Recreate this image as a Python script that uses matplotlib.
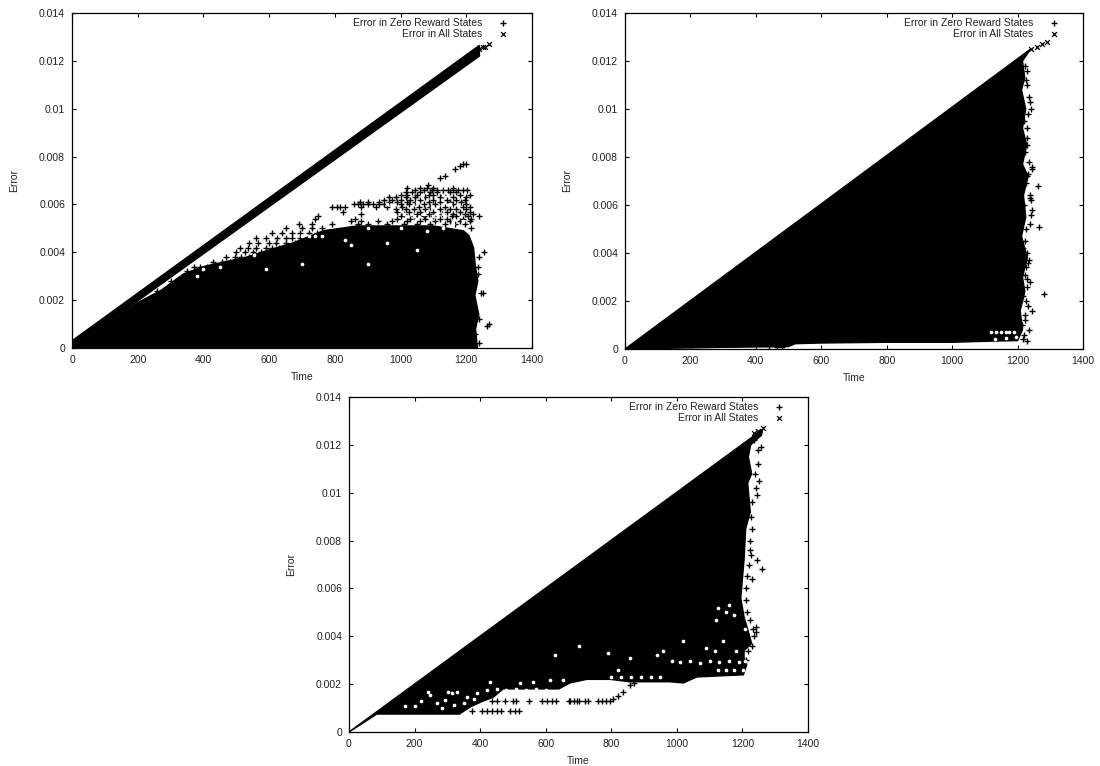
import matplotlib
matplotlib.use("Agg")
import matplotlib.pyplot as plt

plt.rcParams["font.family"] = ["Liberation Sans", "DejaVu Sans"]

xticks = [0, 200, 400, 600, 800, 1000, 1200, 1400]
yticks = [0, 0.002, 0.004, 0.006, 0.008, 0.01, 0.012, 0.014]
ytick_labels = ["0", "0.002", "0.004", "0.006", "0.008", "0.01", "0.012", "0.014"]
zero_label = "Error in Zero Reward States"
all_label = "Error in All States"

# top left panel: diagonal band, solid mass under it, loose points above
p1_band_x = [0, 1240, 1240, 0]
p1_band_y = [0.0003, 0.01265, 0.0122, 0]
p1_mass_x = [0, 100, 200, 270, 340, 400, 430, 532, 600, 674, 765, 867, 978, 1100, 1191,
             1208, 1222, 1228, 1235, 1226, 1238, 1228, 1234, 0]
p1_mass_y = [0, 0.00095, 0.0019, 0.0024, 0.0031, 0.0034, 0.0035, 0.0038, 0.0041, 0.0044,
             0.0049, 0.0051, 0.0051, 0.0051, 0.0049, 0.0047, 0.0042, 0.0034, 0.0028,
             0.0022, 0.0014, 0.0008, 0, 0]
# loose points, one row of x values per y value
p1_row_y = [0.0024, 0.0028, 0.0032, 0.0034, 0.0036, 0.0038, 0.0040, 0.0042, 0.0044, 0.0046,
            0.0048, 0.0050, 0.0052, 0.0053, 0.0054, 0.0055, 0.0056, 0.0057, 0.0058, 0.0059,
            0.0060, 0.0061, 0.0062, 0.0063, 0.0064, 0.0065, 0.0066, 0.0067, 0.0068]
p1_row_x = [[260, 285], [300, 315, 330], [350, 375], [370, 390, 410, 440, 1235], [430, 455, 480, 500],
            [470, 495, 515, 540, 570, 1240], [500, 525, 550, 575, 1255], [510, 535, 560, 590, 610, 630],
            [540, 565, 600, 620, 650, 680], [560, 590, 625, 650, 670, 695, 720],
            [610, 640, 670, 695, 720, 745], [650, 700, 730, 760, 1215], [690, 730, 790, 870, 900, 960, 1010, 1050, 1090, 1135, 1165, 1195],
            [850, 880, 930, 975, 1020, 1060, 1105, 1150, 1180, 1210],
            [740, 860, 990, 1030, 1075, 1120, 1140, 1190, 1215], [750, 1000, 1040, 1070, 1100, 1155, 1170, 1205, 1240],
            [880, 1010, 1050, 1085, 1125, 1160, 1195, 1220], [826, 990, 1025, 1060, 1100, 1140, 1180, 1210],
            [985, 1015, 1040, 1075, 1120, 1150, 1170, 1200], [790, 805, 815, 831, 880, 925, 960, 1005, 1055, 1090, 1135, 1190, 1210],
            [857, 870, 885, 900, 917, 935, 950, 1000, 1025, 1070, 1105, 1160, 1200], [875, 900, 935, 965, 990, 1020, 1045, 1085, 1120, 1150, 1185],
            [950, 975, 1000, 1030, 1060, 1100, 1140, 1170, 1195], [965, 985, 1015, 1045, 1075, 1120, 1160, 1200],
            [1000, 1020, 1050, 1085, 1100, 1130, 1180, 1210], [1015, 1035, 1060, 1090, 1110, 1150, 1170],
            [1045, 1070, 1095, 1110, 1130, 1145, 1160, 1175, 1190, 1201], [1020, 1060, 1080, 1100, 1160], [1082]]
p1_lone_x = [1120, 1135, 1165, 1180, 1190, 1200, 1235, 1245, 1250, 1262, 1270, 1240, 1225, 1240,
             5, 15, 30]
p1_lone_y = [0.0071, 0.0072, 0.0075, 0.0076, 0.0077, 0.0077, 0.0031, 0.0023, 0.0023, 0.0009, 0.0010,
             0.0012, 0.0006, 0.0002, 0.0001, 0.0002, 0.0001]
p1_cross_x = [1225, 1240, 1250, 1258, 1268]
p1_cross_y = [0.0124, 0.0125, 0.0126, 0.0126, 0.0127]
p1_hole_x = [380, 400, 450, 555, 590, 700, 720, 740, 760, 830, 850, 900, 960, 1000, 1080, 1130,
             1160, 700, 900, 1050, 1010, 1040, 1070, 1100, 1130, 1160, 1190, 1050, 1095, 1150,
             1065, 1130, 960]
p1_hole_y = [0.0030, 0.0033, 0.0034, 0.0039, 0.0033, 0.0047, 0.0047, 0.0047, 0.0047, 0.0045,
             0.0043, 0.0050, 0.0044, 0.0050, 0.0049, 0.0050, 0.0052, 0.0035, 0.0035, 0.0041,
             0.0056, 0.0055, 0.0056, 0.0055, 0.0056, 0.0053, 0.0053, 0.0061, 0.0059, 0.0060,
             0.0063, 0.0064, 0.0060]

# top right panel: filled triangle with a jagged right edge
p2_mass_x = [0, 1240, 1215, 1222, 1212, 1225, 1215, 1228, 1215, 1232, 1218, 1225, 1212,
             1230, 1215, 1222, 1208, 1215, 1200, 1100, 1000, 800, 600, 520, 500, 300, 0]
p2_mass_y = [0, 0.0125, 0.0120, 0.0113, 0.0108, 0.0100, 0.0092, 0.0085, 0.0077, 0.0072,
             0.0064, 0.0055, 0.0047, 0.0038, 0.0030, 0.0024, 0.0016, 0.0008, 0.00035,
             0.00032, 0.00028, 0.00028, 0.00025, 0.00022, 0.00010, 0.00007, 0]
p2_plus_x = [1222, 1228, 1228, 1235, 1238, 1240, 1232, 1228, 1230, 1235, 1245, 1243, 1232,
             1228, 1238, 1263, 1238, 1242, 1245, 1241, 1238, 1265, 1228, 1235, 1232, 1230,
             1238, 1280, 1245, 1235, 1222, 1230, 440, 465, 480, 1225, 1232, 1225, 1220, 1228,
             1222, 1226, 1220, 1225, 1222, 1218, 1226, 1222, 1228, 1218, 1224, 1215, 1220, 1216]
p2_plus_y = [0.0118, 0.0116, 0.0110, 0.0105, 0.0103, 0.0100, 0.0098, 0.0092, 0.0085, 0.0078,
             0.0076, 0.0075, 0.0073, 0.0072, 0.0064, 0.0068, 0.0063, 0.0062, 0.0058, 0.0056,
             0.0052, 0.0051, 0.0040, 0.0037, 0.0036, 0.0029, 0.0028, 0.0023, 0.0016, 0.0008,
             0.0014, 0.00035, 0.00012, 0.00010, 0.00008, 0.0020, 0.0018, 0.0112, 0.0095, 0.0088,
             0.0082, 0.0069, 0.0060, 0.0050, 0.0045, 0.0042, 0.0034, 0.0031, 0.0026, 0.0022,
             0.0012, 0.0010, 0.0006, 0.0004]
p2_cross_x = [1240, 1258, 1275, 1290]
p2_cross_y = [0.0125, 0.0126, 0.0127, 0.0128]
p2_hole_x = [1120, 1135, 1150, 1165, 1175, 1190, 1130, 1165, 1195]
p2_hole_y = [0.00072, 0.00072, 0.00070, 0.00072, 0.00072, 0.00070, 0.00040, 0.00045, 0.00048]

# bottom panel: triangle cut off from below, loose rows of points under it
p3_mass_x = [0, 1262, 1258, 1225, 1218, 1228, 1216, 1224, 1210, 1205, 1195, 1205, 1218,
             1228, 1205, 1205, 1213, 1203, 1061, 1020, 979, 857, 796, 776, 725, 674, 640,
             600, 470, 440, 410, 370, 337, 85, 0]
p3_mass_y = [0, 0.01265, 0.0124, 0.0120, 0.0115, 0.0108, 0.0104, 0.0092, 0.0085, 0.0072,
             0.0056, 0.0048, 0.0042, 0.0037, 0.0034, 0.0031, 0.0028, 0.00239, 0.0023,
             0.00205, 0.0021, 0.0021, 0.0022, 0.0022, 0.0022, 0.00205, 0.0018, 0.0018,
             0.0018, 0.00145, 0.0013, 0.00105, 0.00075, 0.00075, 0]
p3_plus_x = [375, 405, 420, 435, 450, 465, 490, 505, 520, 435, 450, 475, 500, 510, 550, 590,
             605, 620, 630, 670, 685, 700, 674, 694, 720, 730, 760, 772, 785, 796, 806, 820,
             837, 857, 870, 1248, 1238, 1250, 1240, 1245, 1258, 1248, 1235, 1245, 1222, 1260,
             1228, 1232, 1235, 1230, 1240, 1240, 1230, 1225, 1228, 1222, 1225, 1220, 1215, 1212,
             1210, 1215, 1222, 1218, 1212]
p3_plus_y = [0.00086, 0.00086, 0.00086, 0.00086, 0.00086, 0.00086, 0.00086, 0.00086, 0.00086,
             0.00128, 0.00128, 0.00128, 0.00128, 0.00128, 0.00128, 0.00128, 0.00128, 0.00128,
             0.00128, 0.00128, 0.00128, 0.00128, 0.00128, 0.00128, 0.00128, 0.00128, 0.00128,
             0.00128, 0.00128, 0.00128, 0.00137, 0.00150, 0.00168, 0.00196, 0.00205, 0.0112,
             0.0108, 0.0105, 0.0102, 0.0099, 0.0119, 0.0118, 0.0122, 0.0072, 0.0076, 0.0068,
             0.0064, 0.0043, 0.0040, 0.0036, 0.0042, 0.0044, 0.0096, 0.0090, 0.0085, 0.0080,
             0.0074, 0.0070, 0.0065, 0.0060, 0.0055, 0.0050, 0.0047, 0.0034, 0.0030]
p3_cross_x = [1235, 1248, 1262]
p3_cross_y = [0.0125, 0.0126, 0.0127]
p3_hole_x = [200, 248, 268, 293, 314, 329, 283, 319, 359, 390, 420, 430, 522, 562, 613, 654,
             628, 242, 303, 450, 480, 510, 540, 570, 600, 985, 1010, 1040, 1070, 1100, 1130,
             1160, 1190, 1208, 1126, 1150, 1175, 1203, 857, 791, 938, 958, 1115, 1140, 1020,
             1180, 1208, 800, 830, 860, 890, 920, 950, 820, 700, 1125, 1150, 1175, 1160, 1120, 1090,
             170, 220, 350, 380, 460]
p3_hole_y = [0.00107, 0.00155, 0.0012, 0.00135, 0.00162, 0.00169, 0.001, 0.00114, 0.00148,
             0.00162, 0.00176, 0.0021, 0.00204, 0.0021, 0.00218, 0.00218, 0.00322, 0.00169,
             0.00169, 0.00178, 0.00175, 0.00178, 0.00175, 0.00178, 0.00175, 0.00295, 0.00292,
             0.00295, 0.0029, 0.00295, 0.00292, 0.00295, 0.00292, 0.00295, 0.0026, 0.0026,
             0.0026, 0.0026, 0.0031, 0.0033, 0.0032, 0.0034, 0.0034, 0.0038, 0.0038, 0.0034,
             0.0043, 0.0023, 0.0023, 0.0023, 0.0023, 0.0023, 0.0023, 0.0026, 0.0036, 0.0052,
             0.0050, 0.0049, 0.0053, 0.0047, 0.0035, 0.0011, 0.0013, 0.0012, 0.0014, 0.0015]

fig = plt.figure(figsize=(11, 7.66), dpi=100)


def draw_panel(rect, mass_x, mass_y, plus_x, plus_y, cross_x, cross_y, hole_x, hole_y,
               band_x=None, band_y=None):
    # rect is left, top, right, bottom in pixels of the 1100x766 figure
    left, top, right, bottom = rect
    ax = fig.add_axes([left / 1100, 1 - bottom / 766, (right - left) / 1100, (bottom - top) / 766])
    ax.fill(mass_x, mass_y, color="black", lw=1.0, zorder=2)
    if band_x is not None:
        ax.fill(band_x, band_y, color="black", lw=1.0, zorder=2)
    ax.scatter(plus_x, plus_y, marker="+", s=22, c="black", linewidths=1.0, zorder=3,
               label=zero_label)
    ax.scatter(cross_x, cross_y, marker="x", s=12, c="black", linewidths=0.9, zorder=3,
               label=all_label)
    ax.scatter(hole_x, hole_y, marker="o", s=7, c="white", linewidths=0, zorder=4)

    ax.set_xlim(0, 1400)
    ax.set_ylim(0, 0.014)
    ax.set_xticks(xticks)
    ax.set_yticks(yticks)
    ax.set_yticklabels(ytick_labels)
    ax.tick_params(direction="in", top=True, right=True, length=3, width=0.8, labelsize=7.5,
                   labelcolor="#222222", pad=5)
    ax.set_xlabel("Time", fontsize=7.5, color="#222222", labelpad=5)
    ax.set_ylabel("Error", fontsize=7.5, color="#222222", labelpad=14)
    for spine in ax.spines.values():
        spine.set_linewidth(0.9)

    ax.legend(loc="upper right", bbox_to_anchor=(1 - 11 / (right - left), 1 + 1.5 / (bottom - top)),
              frameon=False, markerfirst=False, fontsize=7.5,
              labelspacing=0.12, handletextpad=0.9, borderaxespad=0.3, borderpad=0.3,
              handlelength=2.2, scatterpoints=1, labelcolor="#222222")
    return ax


# flatten the rows of the top left panel
p1_plus_x = list(p1_lone_x)
p1_plus_y = list(p1_lone_y)
for row_y, row_x in zip(p1_row_y, p1_row_x):
    p1_plus_x.extend(row_x)
    p1_plus_y.extend([row_y] * len(row_x))

draw_panel((72, 13, 532, 348), p1_mass_x, p1_mass_y, p1_plus_x, p1_plus_y, p1_cross_x, p1_cross_y,
           p1_hole_x, p1_hole_y, p1_band_x, p1_band_y)
draw_panel((625, 13, 1083, 349), p2_mass_x, p2_mass_y, p2_plus_x, p2_plus_y, p2_cross_x, p2_cross_y,
           p2_hole_x, p2_hole_y)
draw_panel((349, 397, 808, 732), p3_mass_x, p3_mass_y, p3_plus_x, p3_plus_y, p3_cross_x, p3_cross_y,
           p3_hole_x, p3_hole_y)

plt.savefig("out.png", dpi=100)
